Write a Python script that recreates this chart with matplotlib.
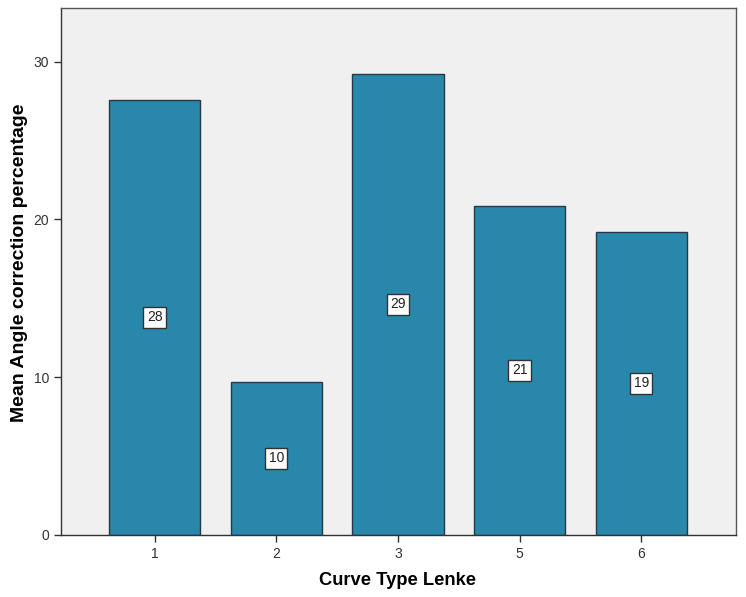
import numpy as np
import matplotlib.pyplot as plt

plt.rcParams['font.family'] = ['Liberation Sans', 'DejaVu Sans']

categories = ['1', '2', '3', '5', '6']
means = [27.58, 9.70, 29.23, 20.86, 19.21]
labels = ['28', '10', '29', '21', '19']

fig = plt.figure(figsize=(7.46, 5.97), dpi=100)
ax = fig.add_axes([0.0818, 0.1039, 0.9048, 0.8827])
ax.set_facecolor('#f0f0f0')

x = np.arange(len(categories))
ax.bar(x, means, width=0.75, color='#2887aa', edgecolor='#253a45', linewidth=1.0, zorder=2)
for xi, m, lab in zip(x, means, labels):
    ax.text(xi, m / 2, lab, ha='center', va='center', fontsize=10, color='#222222',
            bbox=dict(boxstyle='square,pad=0.25', fc='white', ec='#333333', lw=1.0), zorder=3)

ax.set_xlim(-0.77, 4.78)
ax.set_ylim(0, 33.4)
ax.set_xticks(x)
ax.set_xticklabels(categories)
ax.set_yticks([0, 10, 20, 30])
ax.tick_params(axis='both', direction='out', length=5, width=1, colors='#333333', labelsize=10,
               labelcolor='#333333')
for s in ax.spines.values():
    s.set_color('#555555')
    s.set_linewidth(1.0)
ax.spines['left'].set_color('#333333')
ax.spines['bottom'].set_color('#333333')

ax.set_xlabel('Curve Type Lenke', fontsize=13.2, fontweight='bold')
ax.set_ylabel('Mean Angle correction percentage', fontsize=14, fontweight='bold')
ax.xaxis.set_label_coords(0.4985, -0.0873)
ax.xaxis.label.set_va('center')
ax.yaxis.set_label_coords(-0.062, 0.517)
ax.yaxis.label.set_va('center')

fig.savefig('out.png', dpi=100)
